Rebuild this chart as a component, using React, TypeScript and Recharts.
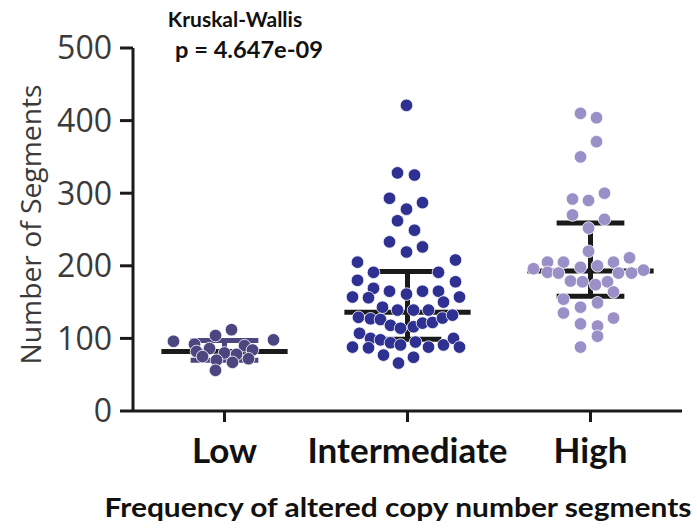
import React from "react";
import {
  ComposedChart,
  Scatter,
  XAxis,
  YAxis,
  ReferenceLine,
  Customized,
} from "recharts";

const categories = ["Low", "Intermediate", "High"];
const yTicks = [0, 100, 200, 300, 400, 500];
const colors = ["#4b4680", "#2e3192", "#9a8fc7"];

// values, with horizontal jitter (in px of a 183px-wide category)
const lowValues = [96, 104, 112, 98, 92, 90, 86, 84, 82, 80, 78, 75, 72, 70, 67, 56];
const lowJitter = [-51, -9, 7, 49, -30, 20, -15, 28, -28, 0, 12, -22, 24, -8, 8, -9];

const intValues = [
  421, 328, 325, 293, 287, 278, 262, 249, 233, 226, 219, 205, 208, 191, 191, 180, 178, 169,
  165, 165, 165, 157, 156, 161, 150, 157, 143, 139, 139, 139, 129, 127, 126, 118, 114, 116,
  121, 122, 128, 132, 107, 100, 98, 94, 91, 95, 88, 91, 100, 88, 87, 88, 77, 74, 66,
];
const intJitter = [
  -1, -10, 7, -18, 15, -1, -10, 7, -18, 15, -1, -50, 48, -34, 31, -50, 48, -34,
  -18, 15, 31, -55, -39, -1, 36, 52, -25, -10, 6, 21, -49, -37, -27, -17, -7, 6,
  15, 25, 35, 45, -48, -37, -27, -17, -7, 8, 21, 36, 46, -55, -39, 52, -24, 6, -9,
];

const highValues = [
  410, 404, 371, 350, 292, 290, 300, 270, 264, 252, 220, 196, 205, 205, 198, 200, 205, 211,
  194, 191, 190, 190, 190, 179, 178, 174, 178, 164, 154, 143, 149, 135, 120, 117, 128, 103, 88,
];
const highJitter = [
  -10, 6, 6, -10, -18, -2, 14, -18, 14, -2, -2, -57, -43, -27, -10, 7, 23, 39,
  53, -43, -32, 28, 41, -20, -8, 5, 17, 23, -27, -10, 7, -27, -10, 7, 23, 7, -10,
];

const medians = [82, 136, 193];
const q1s = [70, 99, 158];
const q3s = [97, 192, 259];
const capColors = ["#4b4680", "#1a1a1a", "#1a1a1a"];

const groups = [
  { values: lowValues, jitter: lowJitter },
  { values: intValues, jitter: intJitter },
  { values: highValues, jitter: highJitter },
];

const BAND = 183;
const seriesData = groups.map((g, gi) =>
  g.values.map((v, i) => ({ x: gi + 0.5 + g.jitter[i] / BAND, y: v }))
);

const FONT = "'Open Sans', 'DejaVu Sans', sans-serif";
const BOLD = "Lato, 'Open Sans', sans-serif";

const Dot = (color: string) => (props: any) => (
  <circle cx={props.cx} cy={props.cy} r={6.3} fill={color} stroke="#ffffff" strokeWidth={0.8} />
);

const Titles = () => (
  <g>
    <text x={235} y={27} textAnchor="middle" fontFamily={BOLD} fontWeight={700} fontSize={21} fill="#111">
      Kruskal-Wallis
    </text>
    <text
      x={249}
      y={58}
      textAnchor="middle"
      fontFamily={BOLD}
      fontWeight={700}
      fontSize={22}
      fill="#111"
      textLength={148}
      lengthAdjust="spacingAndGlyphs"
    >
      p = 4.647e-09
    </text>
    <text
      x={398}
      y={517}
      textAnchor="middle"
      fontFamily={BOLD}
      fontWeight={700}
      fontSize={26}
      fill="#111"
      textLength={587}
      lengthAdjust="spacingAndGlyphs"
    >
      Frequency of altered copy number segments
    </text>
  </g>
);

export default function App() {
  return (
    <div style={{ position: "absolute", left: 0, top: 0, width: 697, height: 528, background: "#fff" }}>
      <ComposedChart width={697} height={528} margin={{ top: 48, right: 15, left: 0, bottom: 0 }}>
        <XAxis
          type="number"
          dataKey="x"
          domain={[0, 3]}
          ticks={[0.5, 1.5, 2.5]}
          tickFormatter={(v: number) => categories[Math.floor(v)]}
          height={117}
          axisLine={{ stroke: "#1a1a1a", strokeWidth: 3 }}
          tickLine={{ stroke: "#1a1a1a", strokeWidth: 3 }}
          tickSize={11}
          tickMargin={16}
          tick={{ fontFamily: BOLD, fontWeight: 700, fontSize: 35, fill: "#111" }}
          allowDataOverflow
        />
        <YAxis
          type="number"
          dataKey="y"
          domain={[0, 500]}
          ticks={yTicks}
          width={133}
          axisLine={{ stroke: "#1a1a1a", strokeWidth: 3 }}
          tickLine={{ stroke: "#1a1a1a", strokeWidth: 3 }}
          tickSize={13}
          tickMargin={8}
          tick={{ fontFamily: FONT, fontSize: 32, fill: "#3a3a3a" }}
          label={{
            content: (p: any) => {
              const vb = p.viewBox || { x: 0, y: 48, width: 133, height: 363 };
              const cx = 30;
              const cy = vb.y + vb.height / 2 - 5;
              return (
                <text
                  x={cx}
                  y={cy}
                  transform={`rotate(-90, ${cx}, ${cy})`}
                  textAnchor="middle"
                  dominantBaseline="central"
                  fontFamily={FONT}
                  fontSize={28}
                  fill="#3a3a3a"
                  textLength={280}
                  lengthAdjust="spacingAndGlyphs"
                >
                  Number of Segments
                </text>
              );
            },
          }}
        />
        {seriesData.map((d, gi) => (
          <Scatter key={gi} data={d} fill={colors[gi]} shape={Dot(colors[gi])} isAnimationActive={false} />
        ))}
        {medians.map((m, gi) => (
          <ReferenceLine
            key={`v${gi}`}
            segment={[{ x: gi + 0.5, y: q1s[gi] }, { x: gi + 0.5, y: q3s[gi] }]}
            stroke={capColors[gi]}
            strokeWidth={5}
          />
        ))}
        {medians.map((m, gi) => (
          <ReferenceLine
            key={`q1${gi}`}
            segment={[{ x: gi + 0.5 - 0.185, y: q1s[gi] }, { x: gi + 0.5 + 0.185, y: q1s[gi] }]}
            stroke={capColors[gi]}
            strokeWidth={5}
          />
        ))}
        {medians.map((m, gi) => (
          <ReferenceLine
            key={`q3${gi}`}
            segment={[{ x: gi + 0.5 - 0.185, y: q3s[gi] }, { x: gi + 0.5 + 0.185, y: q3s[gi] }]}
            stroke={capColors[gi]}
            strokeWidth={5}
          />
        ))}
        {medians.map((m, gi) => (
          <ReferenceLine
            key={`m${gi}`}
            segment={[{ x: gi + 0.5 - 0.345, y: m }, { x: gi + 0.5 + 0.345, y: m }]}
            stroke="#1a1a1a"
            strokeWidth={5}
          />
        ))}
        <Customized component={Titles} />
      </ComposedChart>
    </div>
  );
}
